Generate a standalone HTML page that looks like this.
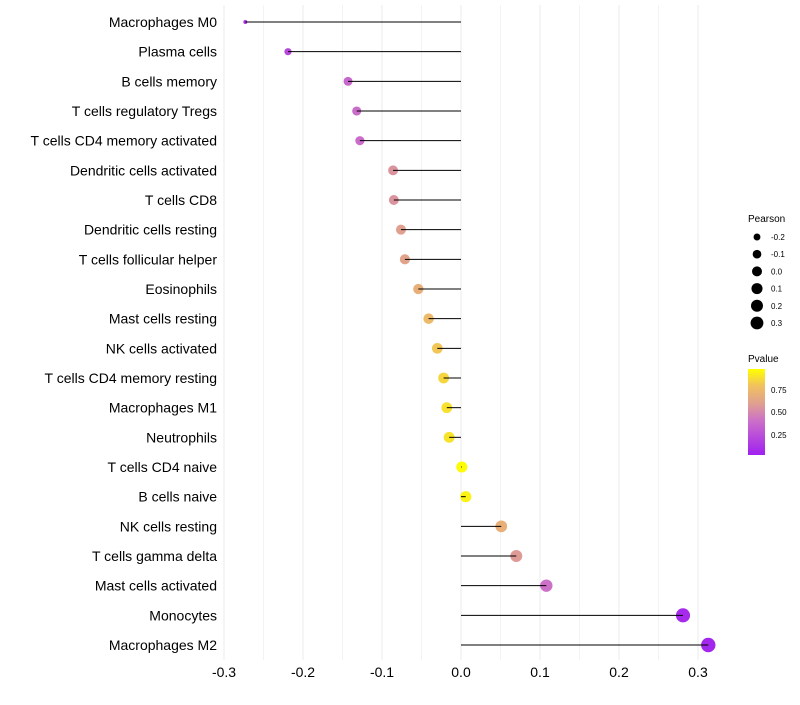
<!DOCTYPE html>
<html><head><meta charset="utf-8"><style>
body{margin:0;background:#fff;font-family:"Liberation Sans",sans-serif}
svg text{font-family:"Liberation Sans",sans-serif}
</style></head><body>
<svg id="chart" width="800" height="700" xmlns="http://www.w3.org/2000/svg">
<g id="grid"></g>
<g id="marks"></g>
<g id="ylabels"></g>
<g id="xlabels"></g>
<g id="legsize">
<text x="748" y="222" font-size="10" fill="#000">Pearson</text>
</g>
<g>
<text x="748" y="362" font-size="10" fill="#000">Pvalue</text>
<defs><linearGradient id="pg" x1="0" y1="1" x2="0" y2="0">
<stop offset="0" stop-color="#A020F0"/><stop offset="0.4" stop-color="#CC70C8"/><stop offset="0.6" stop-color="#E0A090"/><stop offset="0.8" stop-color="#F0C060"/><stop offset="1" stop-color="#FFFF00"/>
</linearGradient></defs>
<rect x="748" y="369" width="17" height="86" fill="url(#pg)"/>
<text x="771" y="393" font-size="8">0.75</text>
<text x="771" y="415" font-size="8">0.50</text>
<text x="771" y="438" font-size="8">0.25</text>
</g>
</svg>
<script>
const categories=["Macrophages M0","Plasma cells","B cells memory","T cells regulatory  Tregs ","T cells CD4 memory activated","Dendritic cells activated","T cells CD8","Dendritic cells resting","T cells follicular helper","Eosinophils","Mast cells resting","NK cells activated","T cells CD4 memory resting","Macrophages M1","Neutrophils","T cells CD4 naive","B cells naive","NK cells resting","T cells gamma delta","Mast cells activated","Monocytes","Macrophages M2"];
const pearson=[-0.273,-0.219,-0.143,-0.132,-0.128,-0.086,-0.085,-0.076,-0.071,-0.054,-0.041,-0.030,-0.022,-0.018,-0.015,0.001,0.006,0.051,0.070,0.108,0.281,0.313];
const pvalue=[0.1,0.2,0.35,0.38,0.38,0.55,0.55,0.6,0.62,0.7,0.76,0.82,0.87,0.9,0.91,0.99,0.96,0.7,0.58,0.4,0.05,0.03];
const xTicks=[-0.3,-0.2,-0.1,0.0,0.1,0.2,0.3];
const xTickLabels=["-0.3","-0.2","-0.1","0.0","0.1","0.2","0.3"];
const sizeLegend=[-0.2,-0.1,0.0,0.1,0.2,0.3];
const sizeLegendLabels=["-0.2","-0.1","0.0","0.1","0.2","0.3"];
const NS="http://www.w3.org/2000/svg";
const xs=v=>461+v*790;
const ys=i=>22+i*(623/21);
const rs=v=>2+5.2*Math.sqrt(Math.max(0,(v+0.273)/0.586));
const stops=[[0,[160,32,240]],[0.4,[204,112,200]],[0.6,[224,160,144]],[0.8,[240,192,96]],[1,[255,255,0]]];
function col(p){p=Math.max(0,Math.min(1,p));for(let k=1;k<stops.length;k++){if(p<=stops[k][0]){const a=stops[k-1],b=stops[k];const t=(p-a[0])/(b[0]-a[0]);return 'rgb('+a[1].map((c,j)=>Math.round(c+(b[1][j]-c)*t)).join(',')+')';}}return 'rgb(255,255,0)';}
function mk(tag,attrs,parent){const e=document.createElementNS(NS,tag);for(const k in attrs)e.setAttribute(k,attrs[k]);parent.appendChild(e);return e;}
const grid=document.getElementById('grid'),marks=document.getElementById('marks'),yl=document.getElementById('ylabels'),xl=document.getElementById('xlabels');
for(let k=0;k<=12;k++){const v=-0.3+k*0.05;const g=mk('line',{x1:xs(v),x2:xs(v),y1:5,y2:660,stroke:k%2?'#f3f3f3':'#ebebeb','stroke-width':1},grid);

}
xTicks.forEach((v,i)=>{const t=mk('text',{x:xs(v),y:677,'font-size':14,'text-anchor':'middle',fill:'#000'},xl);t.textContent=xTickLabels[i];

});
categories.forEach((c,i)=>{const y=ys(i);
const t=mk('text',{x:217,y:y+5,'font-size':14,'text-anchor':'end',fill:'#000'},yl);t.textContent=c;


const p=mk('circle',{cx:xs(pearson[i]),cy:y,r:rs(pearson[i]),fill:col(pvalue[i])},marks);


const l=mk('line',{x1:xs(0),x2:xs(pearson[i]),y1:y,y2:y,stroke:'#000','stroke-width':1},marks);

});
const ls=document.getElementById('legsize');
sizeLegend.forEach((v,i)=>{const y=237+i*17.2;
const c=mk('circle',{cx:757,cy:y,r:rs(v)*0.9,fill:'#000'},ls);


const t=mk('text',{x:771,y:y+3,'font-size':8},ls);t.textContent=sizeLegendLabels[i];

});
</script>
</body></html>
